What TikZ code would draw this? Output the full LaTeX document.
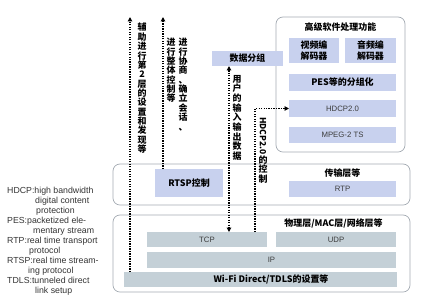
\documentclass[tikz,border=0pt]{standalone}
\usepackage{fontspec}
\usepackage{graphicx}
\setmainfont{Liberation Sans}
\newfontfamily\cjk{Noto Sans CJK SC}
\usetikzlibrary{arrows.meta,positioning}
\definecolor{layerblue}{HTML}{C8D1EE}
\definecolor{layergrey}{HTML}{C4D0D7}
\definecolor{framegrey}{HTML}{A3AAB2}
\definecolor{protogrey}{HTML}{3C3C3C}
\definecolor{keygrey}{HTML}{333333}

\begin{document}
\begin{tikzpicture}[x=1bp, y=-1bp,
  font=\fontsize{9}{11}\selectfont\cjk\bfseries,
  group/.style={draw=framegrey, line width=0.7pt, rounded corners=7pt,
    inner sep=0pt, outer sep=0pt},
  upper/.style={fill=layerblue, inner sep=0pt, outer sep=0pt, align=center},
  lower/.style={fill=layergrey, inner sep=0pt, outer sep=0pt, align=center},
  proto/.style={font=\fontsize{7.8}{9}\selectfont, text=protogrey},
  heading/.style={inner sep=0pt, font=\fontsize{9}{10}\selectfont\cjk\bfseries},
  vlabel/.style={anchor=north, align=center, inner sep=0pt,
    font=\fontsize{9}{9.4}\selectfont\cjk\bfseries},
  flow/.style={line width=1.4pt, dash pattern=on 1.3pt off 1.2pt},
  tip/.style={-{Triangle[length=4.5pt,width=4.5pt]}},
  key/.style={anchor=base west, inner sep=0pt, text=keygrey,
    font=\fontsize{8.8}{10}\selectfont}
]
\useasboundingbox (0,0) rectangle (421,306);

\node[group, minimum width=129bp, minimum height=135bp] (apps) at (340.5,84.5) {};
\node[group, minimum width=297bp, minimum height=41bp] (transport) at (261.5,184.5) {};
\node[group, minimum width=297bp, minimum height=77bp] (phys) at (261.5,253.5) {};

\node[heading, below=5.5bp of apps.north] (appstitle) {高级软件处理功能};
\node[upper, minimum width=50bp, minimum height=25bp] (video) at (314,50.5) {视频编\\解码器};
\node[upper, minimum width=51bp, minimum height=25bp] (audio) at (370.5,50.5) {音频编\\解码器};
\node[upper, minimum width=107bp, minimum height=17bp] (pes) at (342.5,82.5) {PES等的分组化};
\node[upper, proto, minimum width=107bp, minimum height=17bp] (hdcp) at (342.5,108.5) {HDCP2.0};
\node[upper, proto, minimum width=107bp, minimum height=16bp] (mpeg) at (342.5,135) {MPEG-2 TS};
\node[upper, minimum width=71bp, minimum height=15bp] (packet) at (247.5,58.5) {数据分组};

\node[upper, minimum width=68bp, minimum height=28bp] (rtsp) at (189,183) {RTSP控制};
\node[upper, proto, minimum width=107bp, minimum height=16bp] (rtp) at (342.5,189) {RTP};
\node[heading, above=3.5bp of rtp] (transporttitle) {传输层等};

\node[lower, proto, minimum width=120bp, minimum height=15bp] (tcp) at (207,239.5) {TCP};
\node[lower, proto, minimum width=120bp, minimum height=15bp] (udp) at (336,239.5) {UDP};
\node[lower, proto, minimum width=249bp, minimum height=16bp] (ip) at (271.5,260) {IP};
\node[lower, minimum width=273bp, minimum height=15bp] (wifi) at (260.5,279.5) {\hspace*{21bp}Wi-Fi Direct/TDLS的设置等};
\node[heading, above=4bp of udp, xshift=-2.5bp] (physmtitle) {物理层/MAC层/网络层等};

\coordinate (setupx) at (130,17);
\coordinate (sessionx) at (163,17);
\coordinate (datax) at (229,0);
\coordinate (hdcpx) at (255,0);

\draw[flow, tip] (setupx |- wifi.north) -- (setupx);
\draw[flow, tip] (sessionx |- rtsp.north) -- (sessionx);
\draw[flow, {Triangle[length=4.5pt,width=4.5pt]}-{Triangle[length=4.5pt,width=4.5pt]}]
  (datax |- packet.south) -- (datax |- tcp.north);
\draw[flow, tip] (hdcpx |- tcp.north) |- (hdcp.west);

\node[vlabel] (setuplabel) at (142,23) {辅\\助\\进\\行\\第\\2\\层\\的\\设\\置\\和\\发\\现\\等};
\node[vlabel] (sessionlabel) at (183,38) {进\\行\\协\\商\\、\\确\\立\\会\\话\\、};
\node[vlabel] (controllabel) at (171,38) {进\\行\\整\\体\\控\\制\\等};
\node[vlabel, font=\fontsize{9}{9.7}\selectfont\cjk\bfseries] (datalabel) at (237,75) {用\\户\\的\\输\\入\\输\\出\\数\\据};
\node[vlabel] (hdcplabel) at (263,117) {\rotatebox{-90}{\fontsize{8.5}{9}\selectfont HDCP2.0}\\的\\控\\制};

\foreach \dx/\txt [count=\i] in {0/HDCP:high bandwidth, 28/digital content,
    29/protection, 0/PES:packetized ele-, 26/mentary stream,
    0/RTP:real time transport, 22/protocol, 0/RTSP:real time stream-,
    21/ing protocol, 0/TDLS:tunneled direct, 28/link setup}
  \node[key] (key\i) at ({7+\dx},{183.7+10*\i}) {\txt};
\end{tikzpicture}
\end{document}
